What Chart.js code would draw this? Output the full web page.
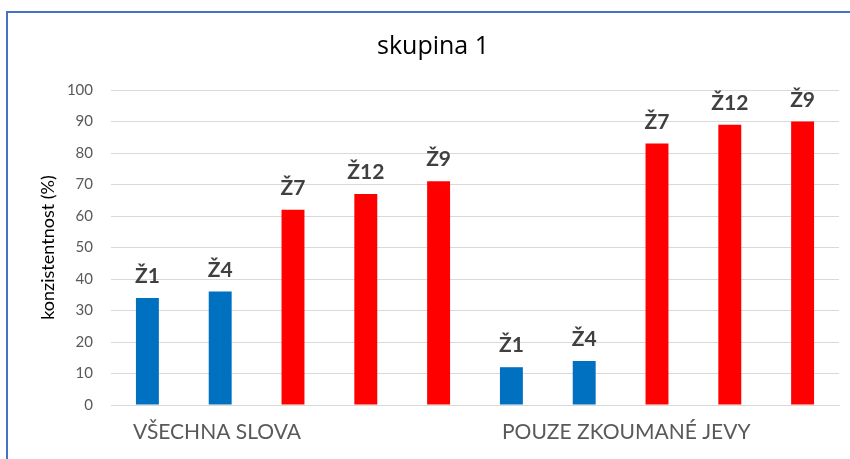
<!DOCTYPE html>
<html>
<head>
<meta charset="utf-8">
<script src="https://cdn.jsdelivr.net/npm/chart.js@4"></script>
<style>
  html, body { margin: 0; padding: 0; background: #fff; }
  #wrap { width: 850px; height: 459px; }
</style>
</head>
<body>
<div id="wrap"><canvas id="chart"></canvas></div>
<script>
const categories = ["VŠECHNA SLOVA", "POUZE ZKOUMANÉ JEVY"];
const seriesNames = ["Ž1", "Ž4", "Ž7", "Ž12", "Ž9"];
const z1 = [34, 12];
const z4 = [36, 14];
const z7 = [62, 83];
const z12 = [67, 89];
const z9 = [71, 90];
const seriesColors = ["#0070C0", "#0070C0", "#FF0000", "#FF0000", "#FF0000"];

const seriesValues = [z1, z4, z7, z12, z9];

// labels above bars + category labels + frame
const extras = {
  id: "extras",
  afterDatasetsDraw(chart) {
    const ctx = chart.ctx;
    ctx.save();
    ctx.fillStyle = "#404040";
    ctx.font = "bold 21px Lato";
    ctx.textAlign = "center";
    ctx.textBaseline = "alphabetic";
    chart.data.datasets.forEach((ds, i) => {
      chart.getDatasetMeta(i).data.forEach(bar => {
        ctx.fillText(ds.label, bar.x, bar.y - 15);
      });
    });

    const x = chart.scales.x;
    const catW = (x.right - x.left) / categories.length;
    const shift = [22, 27];
    ctx.fillStyle = "#595959";
    ctx.font = "21px Lato";
    ctx.textAlign = "left";
    categories.forEach((c, i) => {
      ctx.fillText(c, x.getPixelForValue(i) - catW / 2 + shift[i], chart.chartArea.bottom + 34);
    });

    ctx.strokeStyle = "#4472C4";
    ctx.lineWidth = 2;
    ctx.strokeRect(7, 12, 900, 600);
    ctx.restore();
  }
};

new Chart(document.getElementById("chart"), {
  type: "bar",
  data: {
    labels: categories,
    datasets: seriesNames.map((name, i) => ({
      label: name,
      data: seriesValues[i],
      backgroundColor: seriesColors[i],
      categoryPercentage: 1,
      barPercentage: 0.315
    }))
  },
  options: {
    responsive: true,
    maintainAspectRatio: false,
    animation: false,
    layout: { padding: { left: 27, right: 11, top: 0, bottom: 54 } },
    plugins: {
      legend: { display: false },
      tooltip: { enabled: false },
      title: {
        display: true,
        text: "skupina 1",
        color: "#000",
        font: { family: "Open Sans", size: 25, weight: "normal", lineHeight: 1.2 },
        padding: { top: 32, bottom: 28 }
      }
    },
    scales: {
      x: {
        ticks: { display: false },
        grid: { display: false },
        border: { display: true, color: "#d9d9d9", width: 1 },
        afterFit(scale) { scale.height = 0; }
      },
      y: {
        min: 0,
        max: 100,
        ticks: {
          stepSize: 10,
          color: "#595959",
          padding: 18,
          font: { family: "Lato", size: 15 }
        },
        grid: { color: "#d9d9d9", drawTicks: false },
        border: { display: false },
        title: {
          display: true,
          text: "konzistentnost (%)",
          color: "#000",
          font: { family: "Lato", size: 18 },
          padding: { top: 10, bottom: 0 }
        },
        afterFit(scale) { scale.width = 84; }
      }
    }
  },
  plugins: [extras]
});
</script>
</body>
</html>
